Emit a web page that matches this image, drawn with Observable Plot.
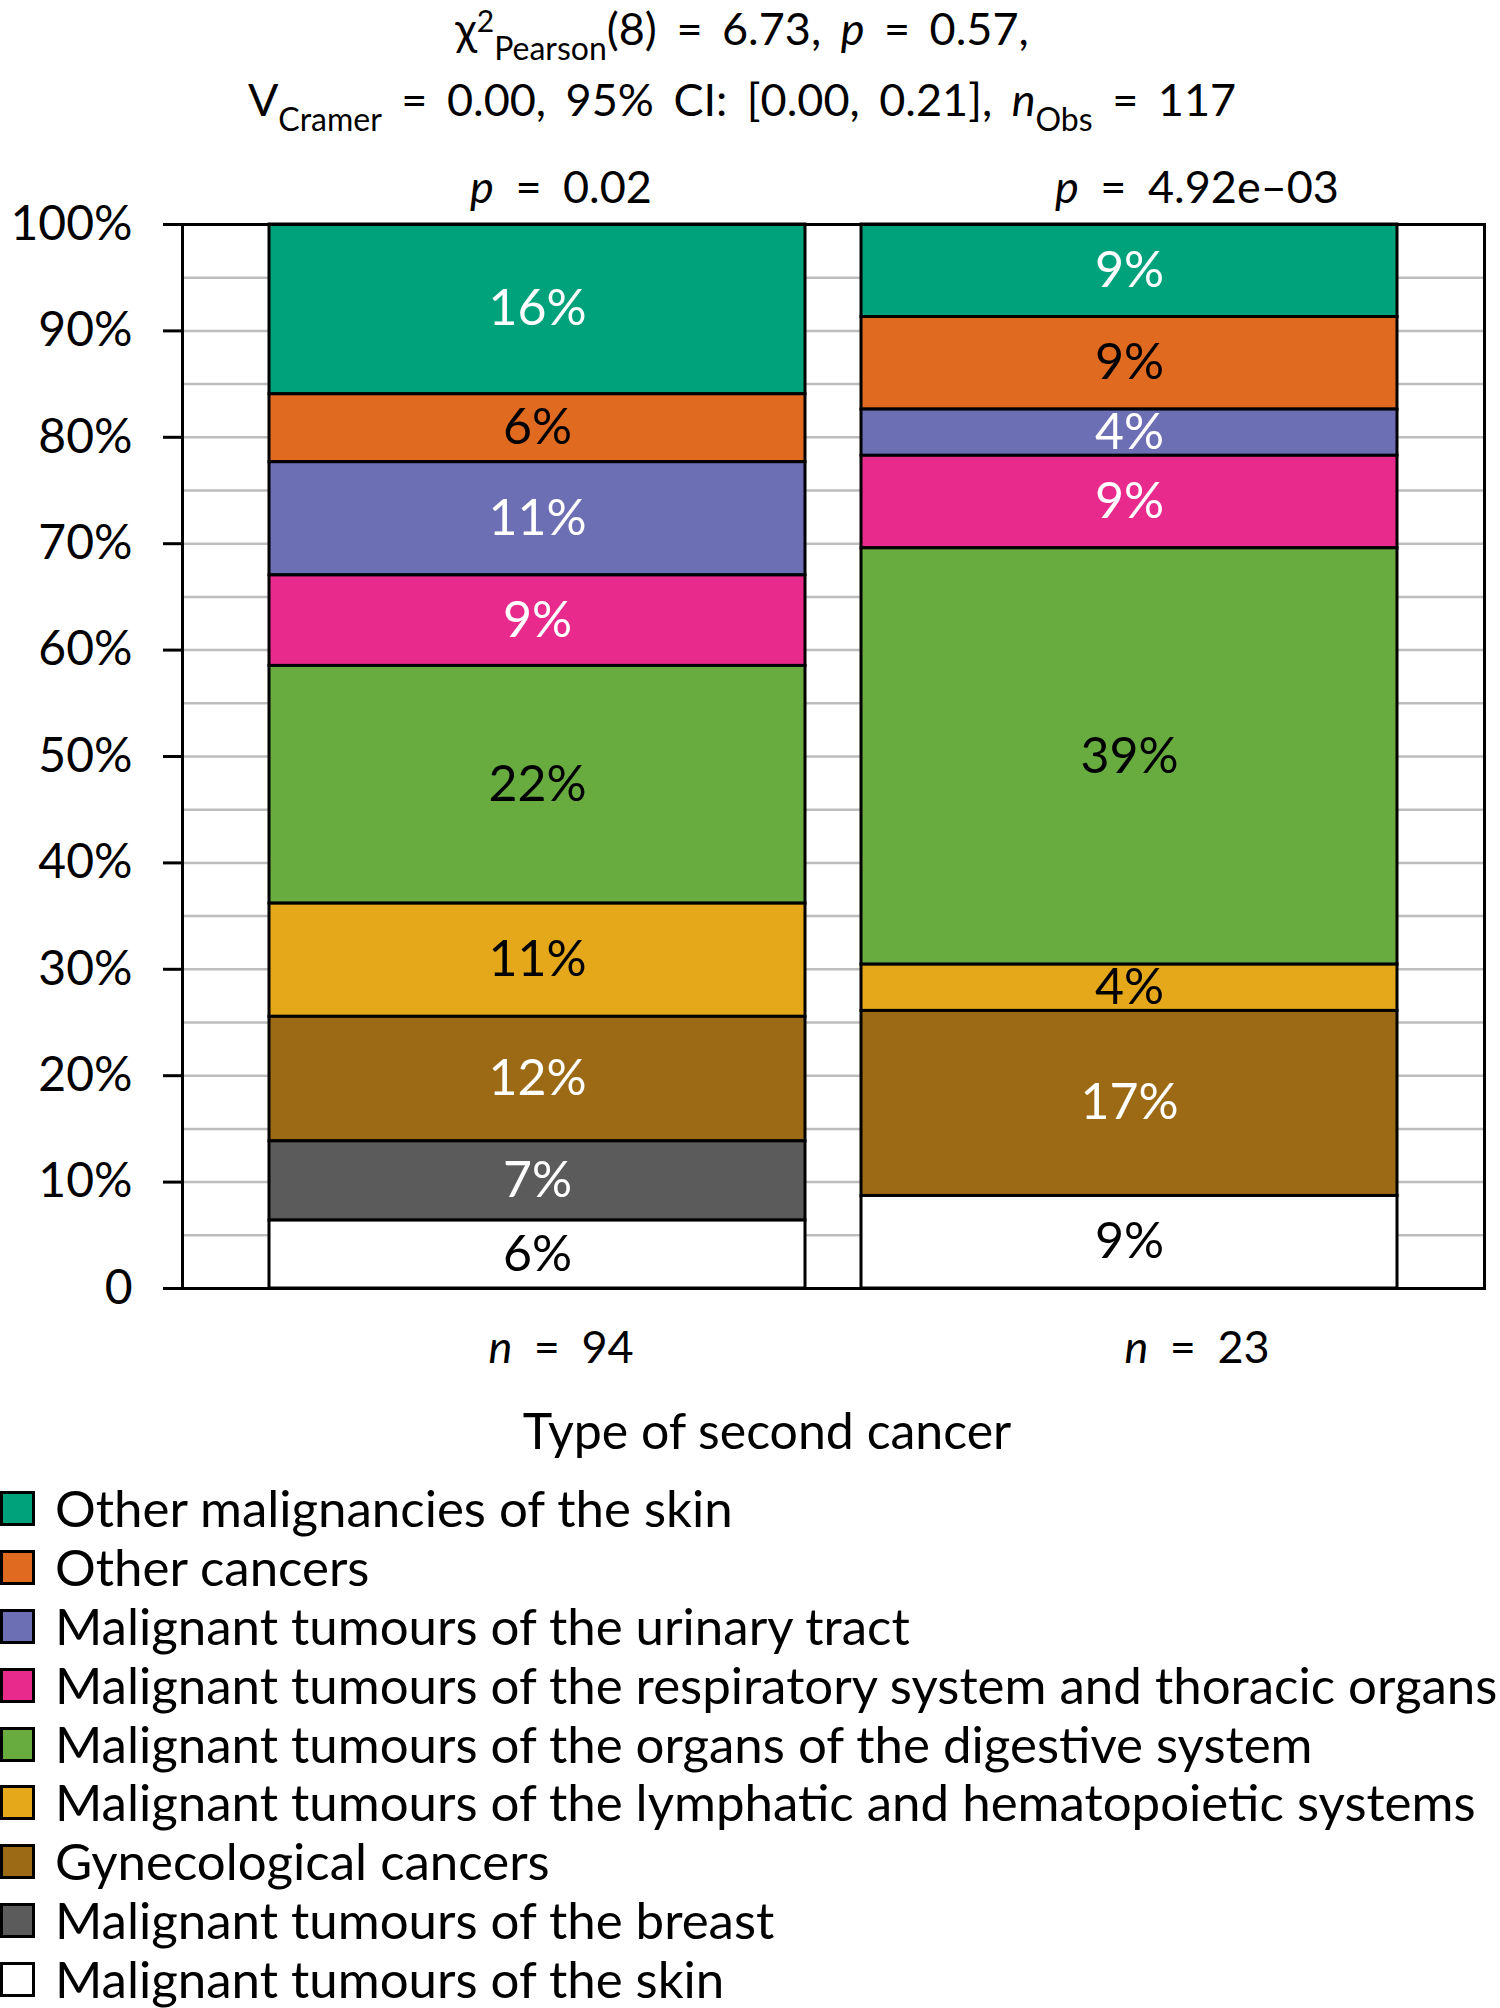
<!DOCTYPE html>
<html><head><meta charset="utf-8">
<script src="https://cdn.jsdelivr.net/npm/d3@7"></script>
<script src="https://cdn.jsdelivr.net/npm/@observablehq/plot@0.6"></script>
<style>
body{margin:0;background:#fff;font-family:Lato,sans-serif;color:#000;}
#wrap{position:relative;width:1500px;height:2008px;overflow:hidden;background:#fff;}
#chart{position:absolute;left:0;top:0;}
.tl{position:absolute;left:0;width:1484px;text-align:center;font-size:45px;line-height:45px;white-space:nowrap;word-spacing:8px;z-index:2}
.sub{position:relative;font-size:32px;top:15px;word-spacing:0}
.sup{position:relative;font-size:30px;top:-13px}
#xlab{position:absolute;left:0;width:1534px;text-align:center;font-size:50px;line-height:50px;top:1405px;white-space:nowrap}
#legend{position:absolute;left:0;top:1479px}
.row{display:flex;align-items:center;height:58.9px;font-size:51px;line-height:58.9px;white-space:nowrap}
.sw{width:35px;height:35px;box-sizing:border-box;border:3px solid #000;margin-right:20px;flex:none}
</style>
</head><body>
<div id="wrap">
  <div class="tl" id="t1" style="top:6px">χ<span class="sup">2</span><span class="sub">Pearson</span>(8) = 6.73, <i>p</i> = 0.57,</div>
  <div class="tl" id="t2" style="top:77px">V<span class="sub">Cramer</span> = 0.00, 95% CI: [0.00, 0.21], <i>n</i><span class="sub">Obs</span> = 117</div>
  <div id="chart"></div>
  <div id="xlab">Type of second cancer</div>
  <div id="legend"></div>
</div>
<script>
// ---- data ----
const categories = [
  "Other malignancies of the skin",
  "Other cancers",
  "Malignant tumours of the urinary tract",
  "Malignant tumours of the respiratory system and thoracic organs",
  "Malignant tumours of the organs of the digestive system",
  "Malignant tumours of the lymphatic and hematopoietic systems",
  "Gynecological cancers",
  "Malignant tumours of the breast",
  "Malignant tumours of the skin"
];
const groups = ["Group A", "Group B"];
const nObs = [94, 23];
// counts per category (same order as categories), consistent with the % labels and n
const countsA = [15, 6, 10, 8, 21, 10, 11, 7, 6];
const countsB = [2, 2, 1, 2, 9, 1, 4, 0, 2];
const pValues = ["0.02", "4.92e\u201303"];
const yTicks = [0, 0.1, 0.2, 0.3, 0.4, 0.5, 0.6, 0.7, 0.8, 0.9, 1];
const gridLines = [0.05, 0.1, 0.15, 0.2, 0.25, 0.3, 0.35, 0.4, 0.45, 0.5, 0.55, 0.6, 0.65, 0.7, 0.75, 0.8, 0.85, 0.9, 0.95];

// ---- styles ----
const palette = ["#00A27B", "#E06B20", "#6C6FB3", "#E72A8C", "#68AC3F", "#E4A81A", "#9C6A15", "#5B5B5B", "#FFFFFF"];
const whiteInk = new Set([categories[0], categories[2], categories[3], categories[6], categories[7]]);
const labelShift = [23.5, 67.5];

const rows = [];
groups.forEach((g, gi) => {
  const counts = gi === 0 ? countsA : countsB;
  categories.forEach((c, ci) => rows.push({group: g, category: c, count: counts[ci], n: nObs[gi]}));
});
const stackOrder = categories.slice().reverse();
const pct = d => d.count > 0 ? Math.round(100 * d.count / d.n) + "%" : null;
const stackOpts = {x: "group", y: "count", z: "category", offset: "normalize", order: stackOrder};
const groupLabels = groups.map((g, i) => ({group: g, p: "p = " + pValues[i], n: "n = " + nObs[i]}));

const marks = [
  Plot.ruleY(gridLines, {stroke: "#BDBDBD", strokeWidth: 2.5}),
  Plot.barY(rows, Plot.stackY({...stackOpts, fill: "category", stroke: "#000", strokeWidth: 3})),
  Plot.text(rows, Plot.stackY({...stackOpts, text: d => whiteInk.has(d.category) ? pct(d) : null, fill: "white", fontSize: 50})),
  Plot.text(rows, Plot.stackY({...stackOpts, text: d => whiteInk.has(d.category) ? null : pct(d), fill: "black", fontSize: 50})),
  Plot.frame({stroke: "#000", strokeWidth: 3})
];
groupLabels.forEach((d, i) => {
  marks.push(Plot.text([d], {x: "group", text: "p", frameAnchor: "top", lineAnchor: "bottom", dy: -22, dx: labelShift[i], fontSize: 45}));
  marks.push(Plot.text([d], {x: "group", text: "n", frameAnchor: "bottom", lineAnchor: "bottom", dy: 74, dx: labelShift[i], fontSize: 45}));
});

const chart = Plot.plot({
  width: 1500,
  height: 1470,
  marginLeft: 182,
  marginRight: 16,
  marginTop: 224,
  marginBottom: 182,
  style: {fontFamily: "Lato, sans-serif", fontSize: "48px", color: "#000", background: "#fff"},
  x: {domain: groups, paddingInner: 0.0946, paddingOuter: 0.1468, axis: null},
  y: {domain: [0, 1], ticks: yTicks, tickFormat: d => d === 0 ? "0" : Math.round(d * 100) + "%", tickSize: 19, tickPadding: 31, label: null},
  color: {domain: categories, range: palette},
  marks
});
document.getElementById("chart").append(chart);

// italic statistic symbol and wider spacing around "="
const NS = "http://www.w3.org/2000/svg";
chart.querySelectorAll("text").forEach(t => {
  const s = t.textContent;
  if (!/^[pn] = /.test(s)) return;
  while (t.firstChild) t.removeChild(t.firstChild);
  const a = document.createElementNS(NS, "tspan");
  a.setAttribute("font-style", "italic");
  a.textContent = s[0];
  const b = document.createElementNS(NS, "tspan");
  b.textContent = s.slice(1);
  t.append(a, b);
  t.setAttribute("word-spacing", "10");
});
// thicker axis ticks
chart.querySelectorAll('[aria-label="y-axis tick"] path, [aria-label="y-axis"] line, [aria-label="y-axis"] .tick line').forEach(p => {
  p.setAttribute("stroke-width", 3);
  p.setAttribute("stroke", "#000");
});

// legend
const legend = document.getElementById("legend");
categories.forEach((c, i) => {
  const row = document.createElement("div");
  row.className = "row";
  const sw = document.createElement("span");
  sw.className = "sw";
  sw.style.background = palette[i];
  const lab = document.createElement("span");
  lab.textContent = c;
  row.append(sw, lab);
  legend.append(row);
});
</script>
</body></html>
